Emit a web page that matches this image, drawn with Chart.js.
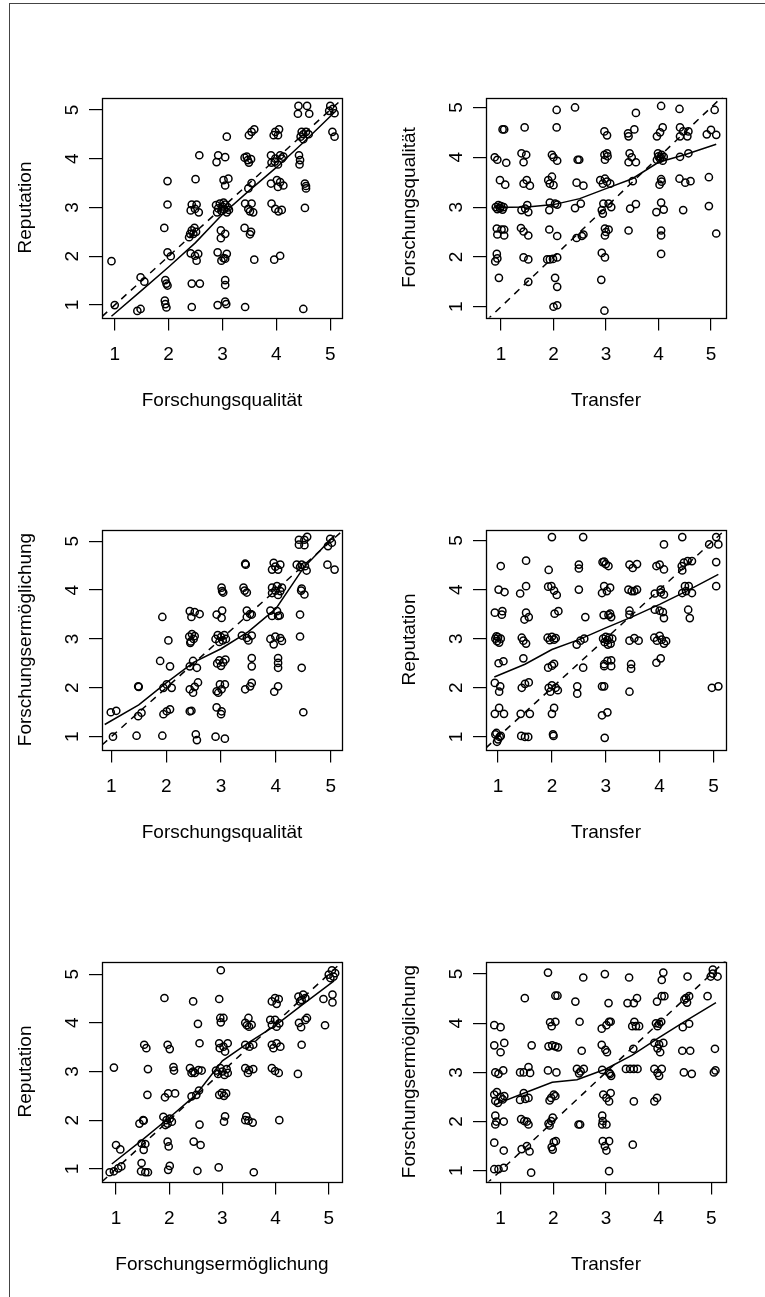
<!DOCTYPE html>
<html>
<head>
<meta charset="utf-8">
<script src="https://cdn.jsdelivr.net/npm/chart.js@4.4.1/dist/chart.umd.min.js"></script>
<style>
  html, body { margin: 0; padding: 0; background: #fff; }
  #page { position: relative; width: 765px; height: 1297px; overflow: hidden; }
  #frame { position: absolute; left: 9px; top: 3px; right: -10px; bottom: -10px;
           border-left: 1px solid #444; border-top: 1px solid #444; }
  .cell { position: absolute; width: 384px; height: 432px; }
</style>
</head>
<body>
<div id="page">
  <div id="frame"></div>
  <div class="cell" style="left:0;top:0"><canvas id="c1" width="384" height="432"></canvas></div>
  <div class="cell" style="left:384px;top:0"><canvas id="c2" width="384" height="432"></canvas></div>
  <div class="cell" style="left:0;top:432px"><canvas id="c3" width="384" height="432"></canvas></div>
  <div class="cell" style="left:384px;top:432px"><canvas id="c4" width="384" height="432"></canvas></div>
  <div class="cell" style="left:0;top:864px"><canvas id="c5" width="384" height="432"></canvas></div>
  <div class="cell" style="left:384px;top:864px"><canvas id="c6" width="384" height="432"></canvas></div>
</div>
<script>
const FONT = '"Liberation Sans", Arial, Helvetica, sans-serif';
const tickValues = [1, 2, 3, 4, 5];

// x = Forschungsqualität, y = Reputation
const qualRep = [
  [0.94,1.9],[1.0,1.0],[1.42,0.88],[1.48,0.92],[1.48,1.57],[1.55,1.48],
  [1.93,1.09],[1.94,1.02],[1.96,0.95],[1.94,1.51],[1.96,1.44],[1.98,1.4],
  [1.98,2.08],[2.04,2.0],[1.92,2.58],[1.98,3.06],[1.98,3.54],
  [2.43,0.96],[2.43,1.44],[2.58,1.44],
  [2.41,2.06],[2.49,2.01],[2.55,2.05],[2.52,1.91],
  [2.4,2.46],[2.43,2.53],[2.48,2.58],[2.46,2.46],[2.38,2.39],[2.51,2.5],
  [2.43,3.06],[2.52,3.06],[2.41,2.94],[2.49,2.97],[2.56,2.9],
  [2.5,3.58],[2.57,4.07],
  [2.91,1.0],[3.05,1.07],[3.07,1.02],[3.05,1.51],[3.05,1.41],
  [2.91,2.08],[3.02,1.96],[3.08,2.05],[2.98,1.91],[3.05,1.95],
  [2.97,2.53],[3.05,2.46],[2.97,2.37],
  [2.88,3.05],[2.92,2.98],[2.95,3.08],[2.98,2.93],[3.0,3.02],[3.03,2.96],
  [3.05,3.06],[3.08,2.9],[3.1,3.0],[2.9,2.9],[3.02,3.1],[3.12,2.95],
  [3.02,3.56],[3.11,3.59],[3.05,3.45],
  [2.92,4.07],[2.89,3.93],[3.05,4.03],[3.08,4.45],
  [3.42,0.96],[3.59,1.93],
  [3.41,2.58],[3.53,2.5],[3.51,2.45],
  [3.42,3.08],[3.54,3.08],[3.48,2.97],[3.57,2.9],[3.51,2.92],
  [3.54,3.5],[3.48,3.39],
  [3.41,4.02],[3.47,3.97],[3.53,3.99],[3.49,3.92],[3.45,4.04],
  [3.49,4.48],[3.54,4.55],[3.59,4.6],
  [3.96,1.93],[4.07,2.01],
  [3.91,3.08],[3.98,2.97],[4.04,2.92],[4.1,2.95],
  [3.9,3.49],[4.01,3.56],[4.07,3.52],[4.13,3.45],[4.03,3.42],
  [3.9,4.07],[3.98,4.0],[4.07,4.07],[4.1,4.0],[3.91,3.92],[4.03,3.88],[3.97,3.94],[4.13,4.04],
  [3.98,4.55],[4.05,4.6],[3.95,4.48],[4.03,4.48],
  [4.5,0.92],[4.53,2.99],[4.53,3.49],[4.55,3.39],[4.55,3.44],
  [4.42,4.07],[4.44,3.97],[4.43,3.88],
  [4.45,4.45],[4.5,4.5],[4.55,4.55],[4.5,4.4],[4.6,4.5],[4.47,4.55],
  [4.41,5.08],[4.57,5.08],[4.4,4.92],[4.61,4.92],
  [5.0,5.08],[5.05,5.02],[4.98,4.98],[5.08,4.93],[5.04,4.55],[5.08,4.45]
];

// x = Transfer, y = Forschungsqualität
const transQual = [
  [2.06,4.95],[2.41,5.0],[3.57,4.89],[4.05,5.03],[4.4,4.97],[5.07,4.95],
  [1.03,4.56],[1.06,4.56],[1.45,4.6],[2.06,4.6],[2.97,4.52],[3.02,4.44],
  [3.42,4.48],[3.54,4.56],[3.43,4.42],[3.97,4.42],[4.03,4.5],[4.08,4.6],
  [4.41,4.6],[4.47,4.52],[4.57,4.52],[4.41,4.42],[4.55,4.42],[4.92,4.46],[5.0,4.55],[5.1,4.45],
  [0.88,4.0],[0.93,3.95],[1.1,3.89],[1.39,4.08],[1.48,4.05],[1.43,3.9],
  [1.97,4.05],[2.0,4.0],[2.07,3.93],[2.46,3.95],[2.49,3.95],
  [2.97,4.05],[3.02,4.08],[2.98,3.95],[3.03,4.02],
  [3.45,4.08],[3.49,4.0],[3.43,3.9],[3.57,3.9],
  [3.97,3.95],[4.0,4.02],[4.03,3.97],[4.06,4.05],[4.08,3.93],[3.99,4.08],[4.04,4.0],[4.1,4.01],
  [4.41,4.01],[4.57,4.08],
  [0.98,3.54],[1.08,3.45],[1.43,3.47],[1.49,3.54],[1.55,3.43],
  [1.9,3.54],[1.97,3.61],[2.0,3.44],[1.93,3.47],[2.44,3.49],[2.57,3.43],
  [2.89,3.54],[2.94,3.47],[3.02,3.51],[3.08,3.47],[2.98,3.57],[3.51,3.52],
  [4.05,3.56],[4.06,3.51],[4.02,3.45],[4.4,3.57],[4.51,3.49],[4.61,3.52],[4.96,3.6],
  [0.9,3.0],[0.93,2.96],[0.95,3.04],[0.98,2.98],[1.0,3.02],[1.03,2.95],[1.05,3.0],
  [1.39,2.94],[1.5,3.04],[1.52,2.9],[1.46,2.97],
  [1.92,2.94],[1.93,3.09],[2.03,3.07],[2.07,3.05],[2.41,2.98],[2.52,3.07],
  [2.92,2.94],[2.95,3.07],[3.05,3.07],[3.1,3.0],[2.94,2.87],[3.46,2.97],[3.57,3.06],
  [3.96,2.9],[4.05,3.09],[4.1,2.95],[4.47,2.94],[4.96,3.02],
  [0.92,2.57],[1.01,2.55],[1.06,2.55],[0.93,2.45],[1.06,2.43],
  [1.38,2.58],[1.43,2.51],[1.52,2.43],[1.92,2.55],[2.07,2.42],
  [2.44,2.38],[2.57,2.45],[2.54,2.42],
  [2.98,2.57],[3.0,2.5],[3.05,2.55],[2.98,2.43],[3.43,2.53],[4.05,2.53],[4.05,2.43],[5.1,2.47],
  [0.92,2.06],[0.89,1.91],[0.93,1.97],[1.43,1.99],[1.52,1.95],
  [1.88,1.95],[1.93,1.95],[1.99,1.96],[2.07,1.99],[2.92,2.08],[2.98,1.99],[4.05,2.06],
  [0.96,1.58],[1.52,1.5],[2.03,1.58],[2.07,1.4],[2.91,1.54],
  [2.0,1.0],[2.07,1.03],[2.97,0.92]
];

// x = Forschungsqualität, y = Forschungsermöglichung
const qualErm = [
  [4.42,5.03],[4.52,5.03],[4.57,5.09],[4.42,4.93],[4.52,4.92],
  [4.99,5.05],[4.95,4.9],[5.02,4.97],[4.94,4.52],[5.07,4.42],
  [3.44,4.54],[3.45,4.52],
  [3.96,4.56],[4.08,4.52],[3.93,4.42],[4.04,4.42],[3.99,4.48],
  [4.38,4.52],[4.47,4.52],[4.53,4.49],[4.56,4.4],[4.44,4.47],
  [3.01,4.05],[3.02,3.98],[3.04,3.95],
  [3.41,4.05],[3.47,3.95],[3.43,3.99],
  [3.93,4.05],[4.02,4.08],[4.08,3.98],[3.93,3.94],[4.04,3.9],[4.11,4.05],[3.99,3.99],
  [4.46,3.99],[4.52,3.91],[4.47,4.03],
  [1.93,3.45],[2.43,3.57],[2.52,3.55],[2.61,3.51],[2.46,3.45],
  [2.92,3.5],[3.02,3.58],[3.01,3.43],
  [3.47,3.58],[3.53,3.51],[3.56,3.5],[3.47,3.45],
  [3.9,3.58],[4.02,3.57],[4.07,3.48],[3.93,3.47],[4.04,3.47],[4.44,3.5],
  [2.04,2.97],
  [2.42,3.05],[2.45,2.95],[2.47,3.1],[2.5,3.0],[2.44,2.92],[2.52,3.06],
  [2.9,3.0],[2.94,3.08],[2.97,2.94],[3.0,3.04],[3.03,2.97],[3.06,3.08],[3.09,3.0],
  [3.38,3.07],[3.47,3.02],[3.56,3.07],[3.5,2.97],
  [3.9,3.0],[3.99,3.05],[4.08,3.02],[3.96,2.89],[4.11,2.96],[4.44,3.05],
  [1.89,2.55],[2.07,2.44],[2.43,2.44],[2.49,2.55],[2.56,2.41],
  [2.93,2.5],[2.97,2.56],[3.0,2.45],[3.04,2.52],[3.08,2.58],
  [3.56,2.61],[3.56,2.44],[4.04,2.61],[4.04,2.51],[4.04,2.41],[4.47,2.41],
  [1.49,2.03],[1.5,2.02],[1.95,2.0],[2.01,2.07],[2.1,2.0],
  [2.43,1.97],[2.52,2.02],[2.58,2.11],[2.49,1.9],
  [2.92,1.93],[2.98,2.07],[3.07,2.07],[3.01,1.97],[2.95,1.9],
  [3.44,1.97],[3.53,2.03],[3.56,2.1],[3.97,1.92],[4.04,2.03],
  [0.99,1.5],[1.09,1.53],[1.49,1.42],[1.55,1.49],
  [1.95,1.46],[2.01,1.52],[2.07,1.56],[2.43,1.52],[2.46,1.53],
  [2.92,1.6],[3.0,1.46],[3.01,1.52],[4.5,1.5],
  [1.03,1.0],[1.46,1.02],[1.93,1.02],[2.54,1.05],[2.56,0.93],[2.9,1.0],[3.07,0.96]
];

// x = Transfer, y = Reputation
const transRep = [
  [2.0,5.07],[2.58,5.07],[4.08,4.92],[4.42,5.07],[5.05,5.07],[4.92,4.92],[5.09,4.92],
  [1.05,4.48],[1.52,4.59],[1.94,4.4],[2.5,4.51],[2.5,4.43],
  [2.94,4.56],[3.0,4.52],[3.05,4.48],[2.97,4.57],
  [3.44,4.51],[3.5,4.44],[3.58,4.52],[3.94,4.48],[4.0,4.51],[4.08,4.41],
  [4.41,4.48],[4.45,4.55],[4.52,4.58],[4.6,4.58],[4.42,4.39],[5.05,4.56],
  [1.01,4.0],[1.12,3.95],[1.41,3.92],[1.52,4.07],
  [1.93,4.06],[1.99,4.07],[2.04,3.98],[2.09,3.89],[2.5,4.0],
  [2.93,3.93],[2.97,4.07],[3.02,3.97],[3.08,4.04],
  [3.42,4.0],[3.48,3.97],[3.53,3.97],[3.58,4.0],
  [3.91,3.92],[4.02,4.0],[4.08,3.9],[4.02,3.94],
  [4.42,3.93],[4.47,4.07],[4.54,4.07],[4.6,3.93],[4.49,3.97],[5.05,4.07],
  [0.94,3.53],[1.07,3.49],[1.08,3.56],[1.49,3.39],[1.52,3.53],[1.57,3.44],
  [2.05,3.51],[2.12,3.56],[2.62,3.44],
  [2.96,3.48],[3.05,3.48],[3.1,3.44],[3.08,3.51],[3.44,3.57],[3.44,3.49],
  [3.91,3.59],[4.0,3.57],[4.06,3.54],[4.08,3.42],[4.53,3.59],[4.56,3.42],
  [0.95,3.0],[0.98,2.95],[1.0,3.03],[1.02,2.92],[1.05,3.0],[0.97,3.05],
  [1.44,3.02],[1.47,2.96],[1.52,2.9],
  [1.92,3.02],[1.96,2.97],[2.0,3.04],[2.04,2.98],[2.07,3.01],
  [2.46,2.88],[2.53,2.96],[2.6,3.0],
  [2.95,3.0],[2.98,2.93],[3.0,3.04],[3.03,2.97],[3.06,3.02],[3.09,2.9],[3.12,3.0],[3.04,2.88],
  [3.44,2.96],[3.53,3.01],[3.61,2.96],
  [3.9,3.02],[3.95,2.96],[4.0,3.06],[4.04,2.98],[4.08,2.9],[4.12,2.95],
  [1.01,2.5],[1.1,2.54],[1.47,2.6],[1.93,2.41],[2.0,2.45],[2.04,2.49],[2.58,2.41],
  [2.97,2.48],[3.1,2.56],[2.97,2.44],[3.1,2.44],[3.03,2.55],
  [3.47,2.48],[3.47,2.39],[3.94,2.51],[4.02,2.6],
  [0.94,2.1],[1.04,2.03],[1.02,1.92],[1.44,2.0],[1.5,2.08],[1.57,2.11],
  [1.94,2.0],[2.0,2.05],[2.07,2.0],[2.11,1.95],[1.97,1.92],
  [2.47,2.03],[2.47,1.88],[2.93,2.03],[2.97,2.03],[3.44,1.92],[4.97,2.0],[5.09,2.03],
  [0.94,1.47],[1.02,1.59],[1.11,1.47],[1.42,1.47],[1.59,1.47],
  [2.0,1.47],[2.04,1.59],[2.93,1.44],[3.03,1.5],
  [0.95,1.05],[1.0,0.95],[1.03,1.0],[0.98,0.9],[1.05,1.02],[0.97,1.08],
  [1.43,1.02],[1.5,1.0],[1.56,1.0],[2.02,1.05],[2.03,1.02],[2.98,0.98]
];

// x = Forschungsermöglichung, y = Reputation
const ermRep = [
  [2.97,5.08],[1.91,4.51],[2.45,4.44],[2.94,4.49],
  [3.93,4.44],[3.99,4.51],[4.06,4.49],[4.02,4.39],
  [4.43,4.54],[4.49,4.47],[4.56,4.51],[4.46,4.44],[4.52,4.58],
  [4.9,4.49],[5.07,4.58],[5.07,4.42],
  [5.06,5.08],[5.0,4.99],[5.09,4.95],[5.03,4.92],[5.12,5.02],
  [2.54,3.98],[2.96,4.1],[3.02,4.1],[2.97,4.01],
  [3.43,4.0],[3.49,4.1],[3.55,3.96],[3.5,3.92],[3.46,3.95],
  [3.9,4.06],[3.99,4.06],[3.93,3.96],[4.02,3.92],[4.07,3.99],
  [4.44,4.0],[4.56,4.06],[4.48,3.91],[4.59,4.1],[4.93,3.95],
  [1.53,3.55],[1.57,3.48],[1.97,3.55],[2.01,3.46],[2.57,3.58],
  [2.94,3.58],[3.02,3.51],[3.1,3.58],[3.05,3.41],[2.95,3.48],
  [3.43,3.55],[3.51,3.51],[3.58,3.55],
  [3.93,3.55],[4.02,3.58],[4.09,3.51],[3.96,3.48],[4.49,3.55],
  [0.96,3.08],[1.6,3.05],[2.08,3.09],[2.09,3.02],
  [2.39,3.07],[2.45,3.0],[2.48,2.97],[2.55,3.03],[2.61,3.02],[2.42,2.97],
  [2.88,3.02],[2.92,2.95],[2.96,3.07],[3.0,3.0],[3.04,2.93],[3.08,3.05],[3.1,2.97],
  [3.43,3.07],[3.5,3.03],[3.58,3.05],[3.48,2.97],
  [3.93,3.07],[3.99,3.01],[4.06,2.97],[4.42,2.95],
  [1.59,2.52],[1.92,2.47],[1.98,2.55],[2.11,2.55],
  [2.42,2.49],[2.51,2.52],[2.56,2.61],
  [2.94,2.52],[2.99,2.56],[3.03,2.5],[3.07,2.55],
  [1.44,1.93],[1.51,2.0],[1.52,1.99],
  [1.89,2.07],[1.95,2.0],[2.01,2.03],[1.97,1.93],[2.05,1.97],[1.93,1.9],
  [2.57,1.91],[3.05,2.08],[3.03,1.97],
  [3.45,2.08],[3.49,1.99],[3.57,1.95],[3.43,2.0],[4.07,2.0],
  [1.0,1.49],[1.08,1.4],[1.48,1.52],[1.55,1.51],[1.52,1.39],
  [1.97,1.56],[1.99,1.46],[2.46,1.56],[2.59,1.49],
  [0.88,0.93],[0.96,0.95],[1.04,1.01],[1.1,1.05],
  [1.48,1.12],[1.47,0.95],[1.55,0.93],[1.6,0.93],
  [1.98,0.98],[2.01,1.06],[2.53,0.96],[2.93,1.03],[3.59,0.93]
];

// x = Transfer, y = Forschungsermöglichung
const transErm = [
  [1.9,5.03],[2.57,4.93],[2.98,5.0],[3.44,4.93],[4.09,5.03],[4.06,4.88],[4.55,4.95],
  [5.03,5.09],[4.99,4.95],[5.12,4.95],[5.03,5.01],
  [1.46,4.51],[2.04,4.56],[2.08,4.56],[2.42,4.44],[3.05,4.41],
  [3.41,4.41],[3.53,4.41],[3.59,4.51],[3.97,4.44],[4.06,4.55],[4.11,4.55],
  [4.49,4.48],[4.54,4.42],[4.58,4.55],[4.52,4.51],[4.93,4.55],
  [0.88,3.96],[1.0,3.92],[1.94,4.02],[2.04,4.03],[1.97,3.94],[2.5,4.03],
  [2.92,3.89],[3.01,3.96],[3.06,4.03],[3.09,4.03],
  [3.5,3.94],[3.57,3.94],[3.63,3.94],[3.54,4.03],
  [3.95,4.0],[4.01,3.99],[3.98,3.94],[4.05,4.03],[4.46,3.92],[4.58,3.99],
  [0.88,3.55],[1.0,3.41],[1.07,3.6],[1.59,3.55],
  [1.91,3.53],[1.98,3.55],[2.04,3.53],[2.09,3.51],[2.54,3.44],
  [2.92,3.56],[2.99,3.46],[3.02,3.41],[3.52,3.48],
  [3.92,3.6],[3.98,3.49],[4.03,3.41],[4.09,3.6],[4.01,3.57],
  [4.45,3.44],[4.6,3.44],[5.07,3.48],
  [0.9,3.0],[0.96,2.97],[1.05,3.04],[1.37,3.0],[1.44,3.0],[1.53,3.11],[1.56,2.99],
  [1.9,3.04],[2.06,3.0],[2.45,3.07],[2.52,3.02],[2.58,3.07],[2.49,2.98],
  [2.93,3.05],[3.08,2.97],[3.1,2.93],[3.06,2.99],
  [3.38,3.07],[3.46,3.07],[3.53,3.07],[3.6,3.07],
  [3.92,3.07],[3.98,2.99],[4.06,3.07],[4.01,2.93],[4.48,3.0],[4.63,2.97],[5.05,3.0],[5.08,3.04],
  [0.88,2.55],[0.9,2.42],[0.93,2.6],[0.95,2.38],[1.0,2.5],[1.04,2.45],[1.07,2.52],
  [1.37,2.44],[1.44,2.58],[1.47,2.46],[1.53,2.48],
  [1.93,2.43],[2.01,2.55],[2.04,2.52],[1.96,2.48],
  [2.95,2.55],[3.01,2.48],[3.06,2.41],[3.09,2.58],[3.53,2.41],[3.92,2.41],[3.97,2.48],
  [0.9,2.12],[0.92,2.0],[0.9,1.94],[1.06,2.0],
  [1.39,2.05],[1.45,2.01],[1.5,2.0],[1.53,1.94],
  [1.91,1.96],[1.96,2.01],[1.99,2.08],[1.93,1.92],[2.48,1.94],[2.51,1.94],
  [2.93,2.12],[2.94,2.01],[3.01,1.94],[2.93,1.94],
  [0.88,1.57],[1.06,1.41],[1.4,1.44],[1.5,1.5],[1.55,1.39],
  [1.97,1.48],[2.01,1.58],[2.05,1.6],[1.99,1.43],
  [2.94,1.6],[3.06,1.6],[2.98,1.5],[3.01,1.41],[3.51,1.53],
  [0.88,1.03],[0.96,1.03],[1.06,1.06],[1.58,0.96],[3.06,0.99]
];

// smoothed curves
const qualRepFit   = [[0.94,0.77],[1.5,1.3],[2.0,1.78],[2.5,2.28],[3.0,2.86],[3.5,3.35],[4.0,3.82],[4.5,4.33],[5.08,4.95]];
const transQualFit = [[0.88,2.99],[1.5,3.0],[2.0,3.05],[2.5,3.17],[3.0,3.37],[3.5,3.57],[4.0,3.9],[4.5,4.05],[5.1,4.26]];
const qualErmFit   = [[0.88,1.25],[1.5,1.65],[2.0,2.1],[2.5,2.52],[3.0,2.8],[3.5,3.15],[4.0,3.62],[4.5,4.45],[5.07,5.12]];
const transRepFit  = [[0.93,2.22],[1.5,2.48],[2.0,2.78],[2.5,2.98],[3.0,3.22],[3.5,3.45],[4.0,3.7],[4.5,3.97],[5.09,4.31]];
const ermRepFit    = [[0.92,1.1],[1.5,1.6],[2.0,2.05],[2.5,2.52],[3.0,3.22],[3.5,3.6],[4.0,3.95],[4.5,4.37],[5.1,4.86]];
const transErmFit  = [[0.88,2.34],[1.5,2.6],[1.98,2.8],[2.45,2.85],[3.0,3.07],[3.5,3.35],[4.0,3.7],[4.5,4.04],[5.09,4.42]];

const panels = [
  {id: 'c1', pts: qualRep,   fit: qualRepFit,   xLabel: 'Forschungsqualität',     yLabel: 'Reputation',             xr: [0.764, 5.218], yr: [0.745, 5.253]},
  {id: 'c2', pts: transQual, fit: transQualFit, xLabel: 'Transfer',               yLabel: 'Forschungsqualität',     xr: [0.714, 5.286], yr: [0.784, 5.20]},
  {id: 'c3', pts: qualErm,   fit: qualErmFit,   xLabel: 'Forschungsqualität',     yLabel: 'Forschungsermöglichung', xr: [0.83, 5.205],  yr: [0.738, 5.24]},
  {id: 'c4', pts: transRep,  fit: transRepFit,  xLabel: 'Transfer',               yLabel: 'Reputation',             xr: [0.776, 5.232], yr: [0.743, 5.224]},
  {id: 'c5', pts: ermRep,    fit: ermRepFit,    xLabel: 'Forschungsermöglichung', yLabel: 'Reputation',             xr: [0.736, 5.249], yr: [0.74, 5.26]},
  {id: 'c6', pts: transErm,  fit: transErmFit,  xLabel: 'Transfer',               yLabel: 'Forschungsermöglichung', xr: [0.723, 5.28],  yr: [0.78, 5.256]}
];

const toXY = arr => arr.map(p => ({x: p[0], y: p[1]}));

// box around the plot region + y tick labels rotated like R does
const rBox = {
  id: 'rBox',
  afterDraw(chart) {
    const {ctx, chartArea: a} = chart;
    const y = chart.scales.y;
    ctx.save();
    ctx.strokeStyle = '#000';
    ctx.lineWidth = 1.3;
    ctx.strokeRect(Math.round(a.left) + 0.5, Math.round(a.top) + 0.5,
                   Math.round(a.right - a.left), Math.round(a.bottom - a.top));
    ctx.fillStyle = '#000';
    ctx.font = '19px ' + FONT;
    ctx.textAlign = 'center';
    ctx.textBaseline = 'middle';
    y.ticks.forEach(t => {
      ctx.save();
      ctx.translate(a.left - 29.5, y.getPixelForValue(t.value));
      ctx.rotate(-Math.PI / 2);
      ctx.fillText(String(t.value), 0, 0);
      ctx.restore();
    });
    ctx.restore();
  }
};

function makePanel(p) {
  const lo = p.xr[0], hi = p.xr[1];
  const axisFont = {family: FONT, size: 19};
  const grid = {drawOnChartArea: false, drawTicks: true, tickLength: 13, color: '#000', lineWidth: 1.2};
  new Chart(document.getElementById(p.id), {
    type: 'scatter',
    data: {
      datasets: [
        {
          data: toXY(p.fit), showLine: true, pointRadius: 0,
          borderColor: '#000', borderWidth: 1.5, fill: false, tension: 0
        },
        {
          data: [{x: lo, y: lo}, {x: hi, y: hi}], showLine: true, pointRadius: 0,
          borderColor: '#000', borderWidth: 1.5, borderDash: [7, 6], fill: false
        },
        {
          data: toXY(p.pts), pointStyle: 'circle', pointRadius: 3.6,
          pointBorderWidth: 1.5, pointBorderColor: '#000',
          pointBackgroundColor: 'rgba(0,0,0,0)'
        }
      ]
    },
    options: {
      responsive: false,
      animation: false,
      devicePixelRatio: 1,
      events: [],
      layout: {padding: {left: 0, right: 42, top: 97.5, bottom: 0}},
      plugins: {legend: {display: false}, tooltip: {enabled: false}},
      scales: {
        x: {
          type: 'linear', min: p.xr[0], max: p.xr[1],
          afterBuildTicks: s => { s.ticks = tickValues.map(v => ({value: v})); },
          afterFit: s => { s.height = 114.5; },
          grid: grid,
          border: {display: false},
          ticks: {font: axisFont, color: '#000', padding: 12.8, maxRotation: 0, autoSkip: false},
          title: {display: true, text: p.xLabel, font: axisFont, color: '#000', padding: {top: 0, bottom: 20.2}}
        },
        y: {
          type: 'linear', min: p.yr[0], max: p.yr[1],
          afterBuildTicks: s => { s.ticks = tickValues.map(v => ({value: v})); },
          afterFit: s => { s.width = 102; },
          grid: grid,
          border: {display: false},
          ticks: {display: false},
          title: {display: true, text: p.yLabel, font: axisFont, color: '#000', padding: {top: 14.6, bottom: 0}}
        }
      }
    },
    plugins: [rBox]
  });
}

panels.forEach(makePanel);
</script>
</body>
</html>
